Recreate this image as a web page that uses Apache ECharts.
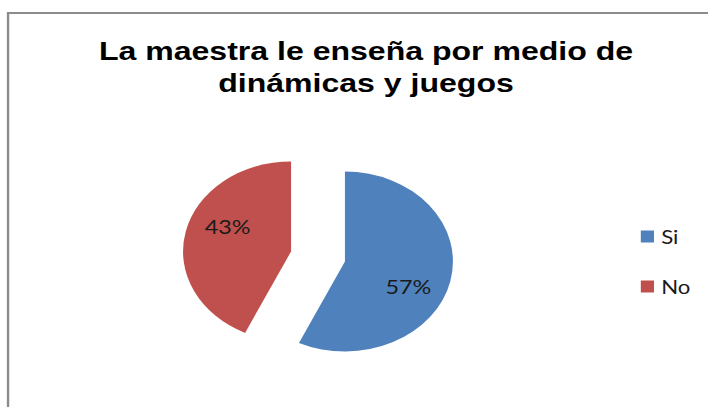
<!DOCTYPE html>
<html>
<head>
<meta charset="utf-8">
<script src="https://cdn.jsdelivr.net/npm/echarts@6/dist/echarts.min.js"></script>
<style>
  html, body { margin: 0; padding: 0; background: #fff; overflow: hidden; }
  #chart { width: 590px; height: 407px; transform: scaleX(1.2); transform-origin: 0 0; }
</style>
</head>
<body>
<div id="chart"></div>
<script>
const titleText = 'La maestra le enseña por medio de\ndinámicas y juegos';
const categories = ['Si', 'No'];
const values = [57, 43];

const sliceColors = ['#4F81BD', '#C0504D'];

const chart = echarts.init(document.getElementById('chart'), null, { renderer: 'svg' });

const baseData = categories.map((c, i) => ({
  name: c,
  value: values[i],
  selected: true,
  itemStyle: { color: sliceColors[i] }
}));
const labelData = categories.map((c, i) => ({
  name: c,
  value: values[i],
  selected: true
}));

chart.setOption({
  animation: false,
  title: {
    text: titleText,
    left: 300,
    top: 29,
    textAlign: 'center',
    textStyle: {
      fontFamily: 'Liberation Sans, Arial, sans-serif',
      fontSize: 26.7,
      fontWeight: 'bold',
      color: '#000',
      lineHeight: 32.5
    }
  },
  legend: {
    orient: 'vertical',
    left: 529,
    top: 222,
    itemWidth: 11,
    itemHeight: 12,
    itemGap: 31,
    icon: 'rect',
    selectedMode: false,
    data: categories.map((c, i) => ({ name: c, itemStyle: { color: sliceColors[i] } })),
    textStyle: {
      fontFamily: 'Lato, sans-serif',
      fontSize: 18.5,
      lineHeight: 18,
      color: '#1a1a1a',
      padding: [0, 0, 0, 1]
    }
  },
  graphic: [{
    type: 'rect',
    silent: true,
    shape: { x: 6.7, y: 13, width: 700, height: 500 },
    style: { fill: 'none', stroke: '#8c8c8c', lineWidth: 2 }
  }],
  series: [
    {
      type: 'pie',
      center: [265, 256.5],
      radius: [0, 90],
      startAngle: 90,
      clockwise: true,
      selectedMode: 'multiple',
      selectedOffset: 23,
      silent: true,
      label: { show: false },
      labelLine: { show: false },
      itemStyle: { borderWidth: 0 },
      emphasis: { disabled: true },
      data: baseData
    },
    {
      type: 'pie',
      center: [265, 256.5],
      radius: [20, 90],
      startAngle: 81,
      clockwise: true,
      selectedMode: 'multiple',
      selectedOffset: 23,
      silent: true,
      itemStyle: { color: 'rgba(0,0,0,0)', borderWidth: 0 },
      emphasis: { disabled: true },
      labelLine: { show: false },
      label: {
        show: true,
        position: 'inside',
        formatter: p => Math.round(p.percent) + '%',
        fontFamily: 'Lato, sans-serif',
        fontSize: 19.5,
        color: '#1a1a1a'
      },
      data: labelData
    }
  ]
});
</script>
</body>
</html>
